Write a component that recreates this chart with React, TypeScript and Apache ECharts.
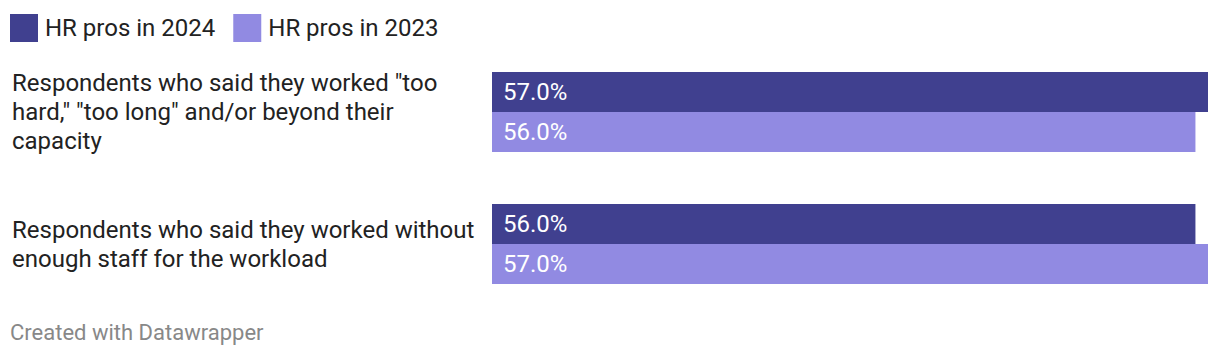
import React, { useEffect, useRef } from "react";
import * as echarts from "echarts";

const categories = [
  'Respondents who said they worked "too\nhard," "too long" and/or beyond their\ncapacity',
  "Respondents who said they worked without\nenough staff for the workload",
];
const series2024 = [57, 56];
const series2023 = [56, 57];
const seriesNames = ["HR pros in 2024", "HR pros in 2023"];

export default function App() {
  const ref = useRef<HTMLDivElement>(null);
  useEffect(() => {
    const chart = echarts.init(ref.current!, null, { renderer: "svg" });
    const font = "Roboto, sans-serif";
    const barLabel = {
      show: true,
      position: "insideLeft",
      distance: 11,
      formatter: (p: any) => p.value.toFixed(1) + "%",
      color: "#fff",
      fontSize: 24,
      fontFamily: font,
    };
    chart.setOption({
      animation: false,
      textStyle: { fontFamily: font },
      legend: {
        left: 10,
        top: 14,
        padding: 0,
        itemWidth: 28,
        itemHeight: 28,
        itemGap: 18,
        icon: "rect",
        textStyle: { fontSize: 24, color: "#222", fontFamily: font, padding: [0, 0, 0, 2] },
        data: seriesNames,
      },
      grid: { left: 492, right: 12, top: 46, height: 264 },
      xAxis: {
        type: "value",
        min: 0,
        max: 57,
        show: false,
      },
      yAxis: {
        type: "category",
        inverse: true,
        data: categories,
        axisLine: { show: false },
        axisTick: { show: false },
        axisLabel: {
          margin: 480,
          align: "left",
          fontSize: 24,
          lineHeight: 29,
          color: "#222",
          fontFamily: font,
        },
      },
      series: [
        {
          name: seriesNames[0],
          type: "bar",
          data: series2024,
          barWidth: 40,
          barGap: "0%",
          itemStyle: { color: "#40408f" },
          label: barLabel,
        },
        {
          name: seriesNames[1],
          type: "bar",
          data: series2023,
          barWidth: 40,
          itemStyle: { color: "#918ae2" },
          label: barLabel,
        },
      ],
      graphic: [
        {
          type: "text",
          left: 10,
          top: 321,
          style: { text: "Created with Datawrapper", fontSize: 22, fill: "#888", fontFamily: font },
        },
      ],
    });
    return () => chart.dispose();
  }, []);
  return <div ref={ref} style={{ width: 1220, height: 362, position: "absolute", left: 0, top: 0 }} />;
}
